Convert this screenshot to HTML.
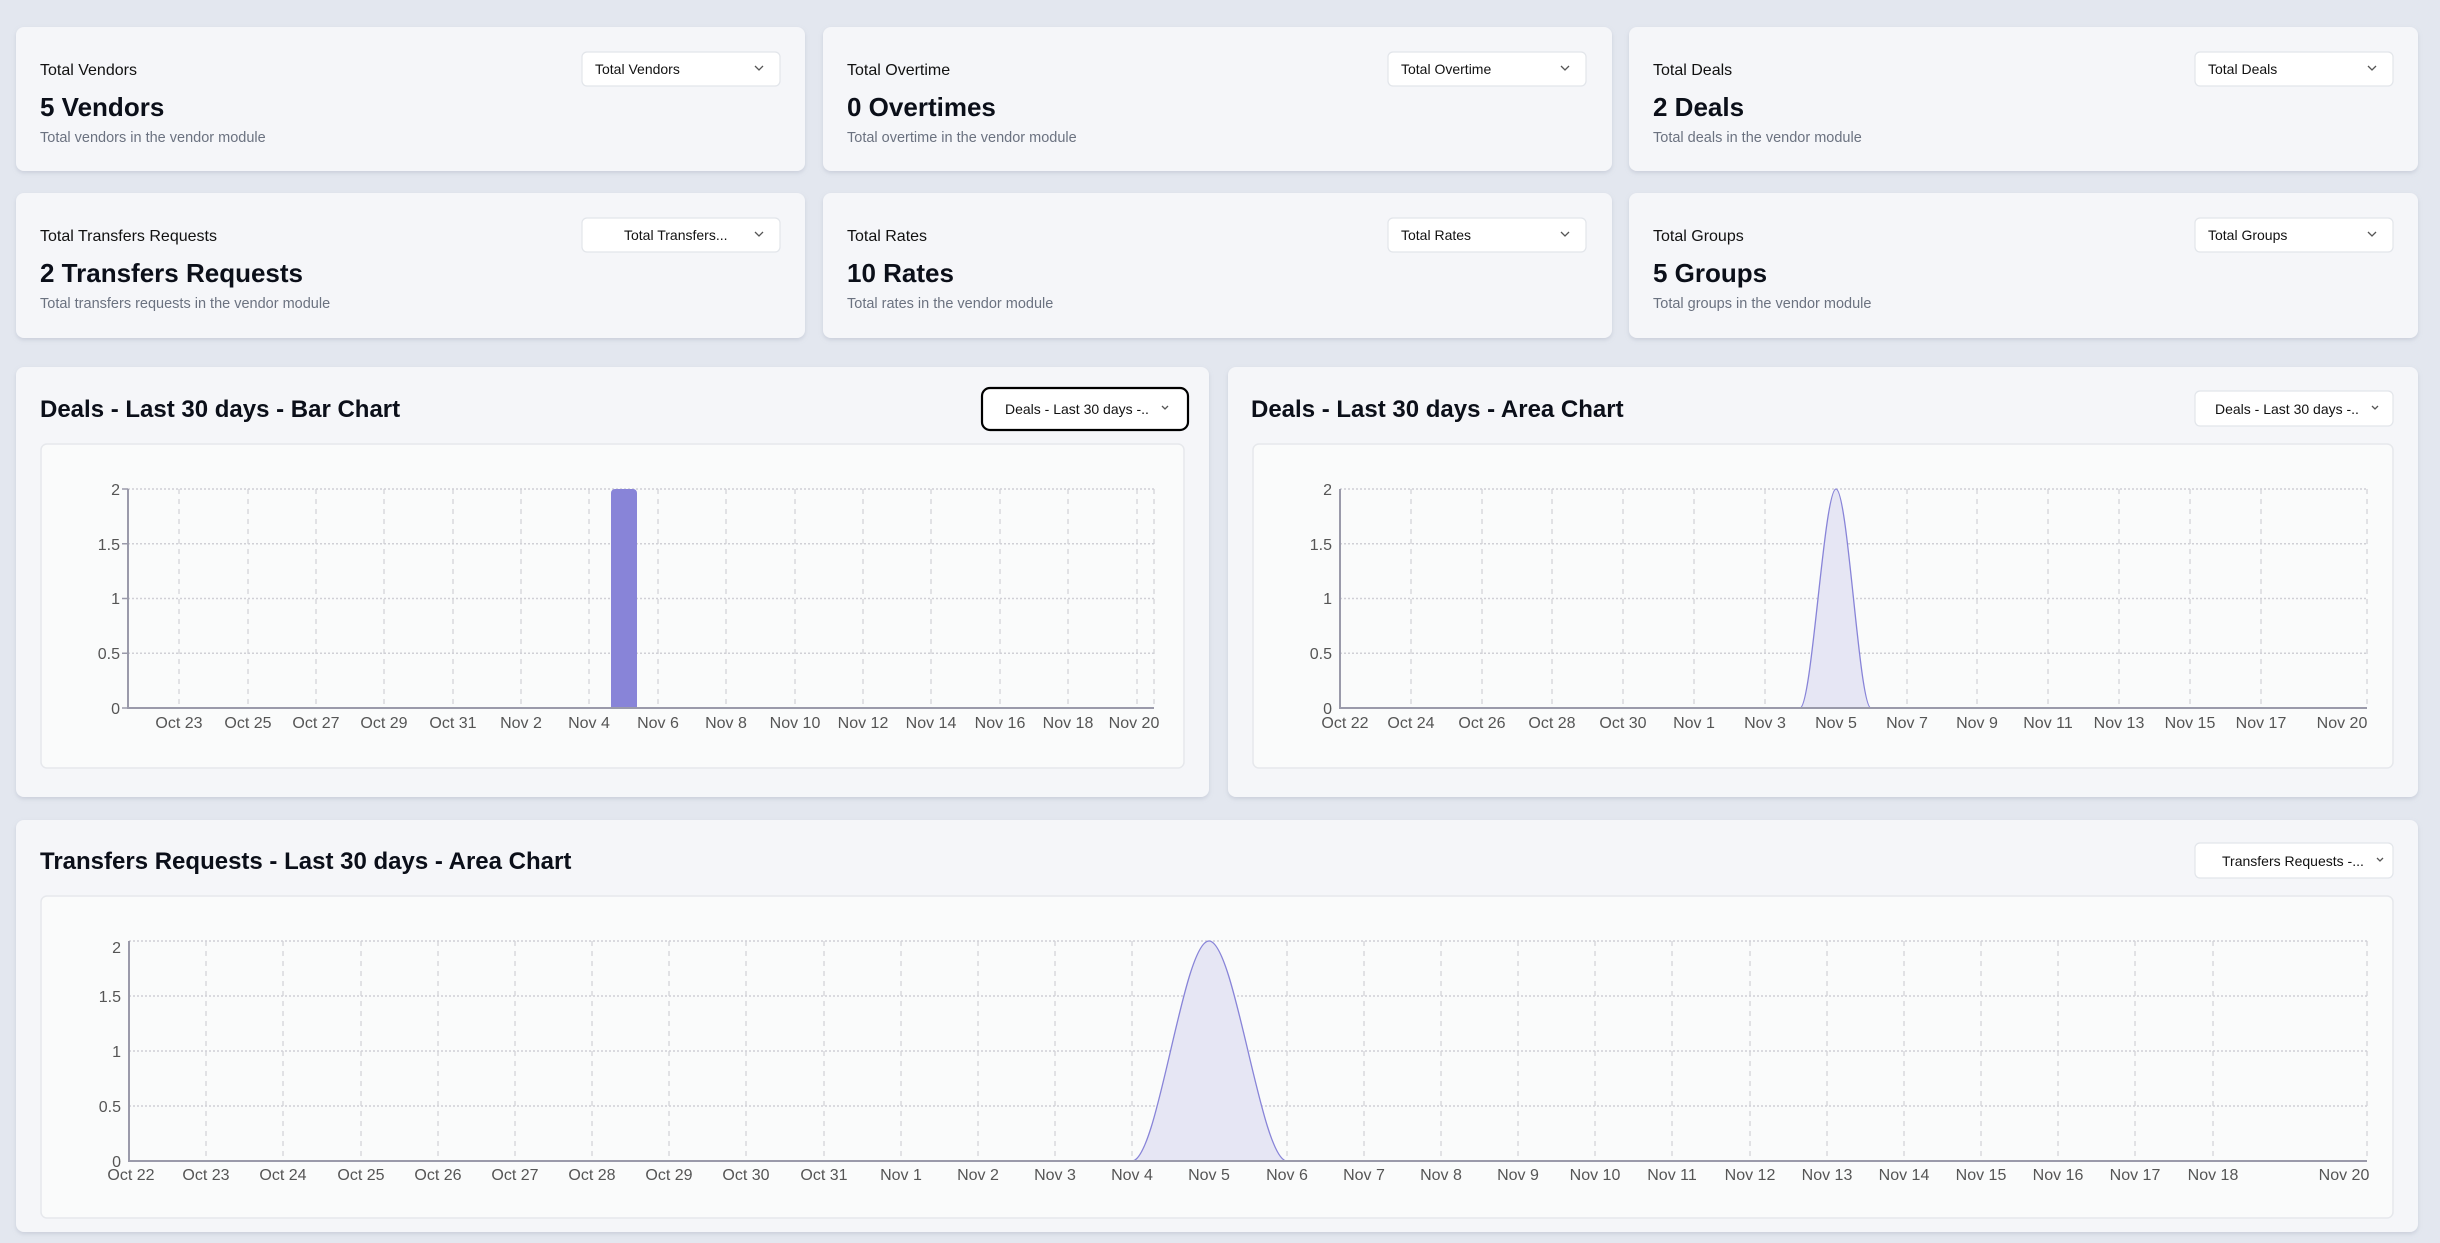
<!DOCTYPE html>
<html><head><meta charset="utf-8"><style>
html,body{margin:0;padding:0;background:#e3e7ef;}
svg{display:block;font-family:"Liberation Sans",sans-serif;}
.lb{font-size:16px;fill:#111;}
.val{font-size:26px;font-weight:bold;fill:#0b0f19;}
.sub{font-size:14.5px;fill:#6b7280;}
.dd{font-size:14px;fill:#111;}
.tt{font-size:24px;font-weight:bold;fill:#0b0f19;}
.ax{font-size:16px;fill:#555;}
.card{fill:#f5f6f9;filter:url(#sh);}
.pan{fill:#fafbfb;stroke:#e6e8ec;stroke-width:1.5;}
.ddb{fill:#fff;stroke:#e2e5ea;stroke-width:1.2;}
.hg{stroke:#d0d0d6;stroke-width:1.5;stroke-dasharray:2 2;}
.vg{stroke:#d0d0d6;stroke-width:1.2;stroke-dasharray:5 5;}
.axl{stroke:#9a9aaa;stroke-width:2;fill:none;}
.chev{fill:none;stroke:#555;stroke-width:1.3;}
</style></head><body>
<svg width="2440" height="1243" viewBox="0 0 2440 1243">
<defs><filter id="sh" x="-5%" y="-5%" width="110%" height="115%"><feDropShadow dx="0" dy="2" stdDeviation="2" flood-color="#9aa3b5" flood-opacity="0.35"/></filter></defs>
<rect width="2440" height="1243" fill="#e3e7ef"/>

<!-- stat cards -->
<g>
<rect class="card" x="16" y="27" width="789" height="144" rx="8"/>
<rect class="card" x="823" y="27" width="789" height="144" rx="8"/>
<rect class="card" x="1629" y="27" width="789" height="144" rx="8"/>
<rect class="card" x="16" y="193" width="789" height="145" rx="8"/>
<rect class="card" x="823" y="193" width="789" height="145" rx="8"/>
<rect class="card" x="1629" y="193" width="789" height="145" rx="8"/>

<text class="lb" x="40" y="75">Total Vendors</text><text class="val" x="40" y="116">5 Vendors</text><text class="sub" x="40" y="142">Total vendors in the vendor module</text>
<text class="lb" x="847" y="75">Total Overtime</text><text class="val" x="847" y="116">0 Overtimes</text><text class="sub" x="847" y="142">Total overtime in the vendor module</text>
<text class="lb" x="1653" y="75">Total Deals</text><text class="val" x="1653" y="116">2 Deals</text><text class="sub" x="1653" y="142">Total deals in the vendor module</text>
<text class="lb" x="40" y="241">Total Transfers Requests</text><text class="val" x="40" y="282">2 Transfers Requests</text><text class="sub" x="40" y="308">Total transfers requests in the vendor module</text>
<text class="lb" x="847" y="241">Total Rates</text><text class="val" x="847" y="282">10 Rates</text><text class="sub" x="847" y="308">Total rates in the vendor module</text>
<text class="lb" x="1653" y="241">Total Groups</text><text class="val" x="1653" y="282">5 Groups</text><text class="sub" x="1653" y="308">Total groups in the vendor module</text>

<rect class="ddb" x="582" y="52" width="198" height="34" rx="5"/><text class="dd" x="595" y="74">Total Vendors</text><path class="chev" d="M755 66l4 4 4-4"/>
<rect class="ddb" x="1388" y="52" width="198" height="34" rx="5"/><text class="dd" x="1401" y="74">Total Overtime</text><path class="chev" d="M1561 66l4 4 4-4"/>
<rect class="ddb" x="2195" y="52" width="198" height="34" rx="5"/><text class="dd" x="2208" y="74">Total Deals</text><path class="chev" d="M2368 66l4 4 4-4"/>
<rect class="ddb" x="582" y="218" width="198" height="34" rx="5"/><text class="dd" x="624" y="240">Total Transfers...</text><path class="chev" d="M755 232l4 4 4-4"/>
<rect class="ddb" x="1388" y="218" width="198" height="34" rx="5"/><text class="dd" x="1401" y="240">Total Rates</text><path class="chev" d="M1561 232l4 4 4-4"/>
<rect class="ddb" x="2195" y="218" width="198" height="34" rx="5"/><text class="dd" x="2208" y="240">Total Groups</text><path class="chev" d="M2368 232l4 4 4-4"/>
</g>

<!-- chart cards -->
<rect class="card" x="16" y="367" width="1193" height="430" rx="8"/>
<rect class="card" x="1228" y="367" width="1190" height="430" rx="8"/>
<rect class="card" x="16" y="820" width="2402" height="412" rx="8"/>

<text class="tt" x="40" y="417">Deals - Last 30 days - Bar Chart</text>
<rect x="982" y="388" width="206" height="42" rx="8" fill="#fff" stroke="#000" stroke-width="2.2"/>
<text class="dd" x="1005" y="414">Deals - Last 30 days -..</text><path class="chev" d="M1162 406l3 3 3-3"/>

<text class="tt" x="1251" y="417">Deals - Last 30 days - Area Chart</text>
<rect class="ddb" x="2195" y="391" width="198" height="35" rx="5"/>
<text class="dd" x="2215" y="414">Deals - Last 30 days -..</text><path class="chev" d="M2372 406l3 3 3-3"/>

<text class="tt" x="40" y="869">Transfers Requests - Last 30 days - Area Chart</text>
<rect class="ddb" x="2195" y="843" width="198" height="35" rx="5"/>
<text class="dd" x="2222" y="866">Transfers Requests -...</text><path class="chev" d="M2377 858l3 3 3-3"/>

<!-- panels -->
<rect class="pan" x="41" y="444" width="1143" height="324" rx="6"/>
<rect class="pan" x="1253" y="444" width="1140" height="324" rx="6"/>
<rect class="pan" x="41" y="896" width="2352" height="322" rx="6"/>

<!-- Bar chart -->
<g>
<g class="hg"><line x1="128" x2="1154" y1="489" y2="489"/><line x1="128" x2="1154" y1="543.75" y2="543.75"/><line x1="128" x2="1154" y1="598.5" y2="598.5"/><line x1="128" x2="1154" y1="653.25" y2="653.25"/></g>
<g class="vg">
<line x1="179" x2="179" y1="489" y2="708"/><line x1="248" x2="248" y1="489" y2="708"/><line x1="316" x2="316" y1="489" y2="708"/><line x1="384" x2="384" y1="489" y2="708"/><line x1="453" x2="453" y1="489" y2="708"/><line x1="521" x2="521" y1="489" y2="708"/><line x1="589" x2="589" y1="489" y2="708"/><line x1="658" x2="658" y1="489" y2="708"/><line x1="726" x2="726" y1="489" y2="708"/><line x1="795" x2="795" y1="489" y2="708"/><line x1="863" x2="863" y1="489" y2="708"/><line x1="931" x2="931" y1="489" y2="708"/><line x1="1000" x2="1000" y1="489" y2="708"/><line x1="1068" x2="1068" y1="489" y2="708"/><line x1="1137" x2="1137" y1="489" y2="708"/><line x1="1154" x2="1154" y1="489" y2="708"/>
</g>
<path d="M611 708V493a4 4 0 0 1 4-4h18a4 4 0 0 1 4 4V708z" fill="#8884d8"/>
<path class="axl" d="M128 489V708H1154"/>
<g stroke="#9a9aaa" stroke-width="1.5"><line x1="122" x2="128" y1="489" y2="489"/><line x1="122" x2="128" y1="543.75" y2="543.75"/><line x1="122" x2="128" y1="598.5" y2="598.5"/><line x1="122" x2="128" y1="653.25" y2="653.25"/><line x1="122" x2="128" y1="708" y2="708"/></g>
<g class="ax" text-anchor="end"><text x="120" y="495">2</text><text x="120" y="550">1.5</text><text x="120" y="604">1</text><text x="120" y="659">0.5</text><text x="120" y="714">0</text></g>
<g class="ax" text-anchor="middle">
<text x="179" y="728">Oct 23</text><text x="248" y="728">Oct 25</text><text x="316" y="728">Oct 27</text><text x="384" y="728">Oct 29</text><text x="453" y="728">Oct 31</text><text x="521" y="728">Nov 2</text><text x="589" y="728">Nov 4</text><text x="658" y="728">Nov 6</text><text x="726" y="728">Nov 8</text><text x="795" y="728">Nov 10</text><text x="863" y="728">Nov 12</text><text x="931" y="728">Nov 14</text><text x="1000" y="728">Nov 16</text><text x="1068" y="728">Nov 18</text><text x="1134" y="728">Nov 20</text>
</g>
</g>

<!-- Area chart right -->
<g>
<g class="hg"><line x1="1340" x2="2367" y1="489" y2="489"/><line x1="1340" x2="2367" y1="543.75" y2="543.75"/><line x1="1340" x2="2367" y1="598.5" y2="598.5"/><line x1="1340" x2="2367" y1="653.25" y2="653.25"/></g>
<g class="vg">
<line x1="1411" x2="1411" y1="489" y2="708"/><line x1="1482" x2="1482" y1="489" y2="708"/><line x1="1552" x2="1552" y1="489" y2="708"/><line x1="1623" x2="1623" y1="489" y2="708"/><line x1="1694" x2="1694" y1="489" y2="708"/><line x1="1765" x2="1765" y1="489" y2="708"/><line x1="1836" x2="1836" y1="489" y2="708"/><line x1="1907" x2="1907" y1="489" y2="708"/><line x1="1977" x2="1977" y1="489" y2="708"/><line x1="2048" x2="2048" y1="489" y2="708"/><line x1="2119" x2="2119" y1="489" y2="708"/><line x1="2190" x2="2190" y1="489" y2="708"/><line x1="2261" x2="2261" y1="489" y2="708"/><line x1="2367" x2="2367" y1="489" y2="708"/>
</g>
<path d="M1800 708C1812 708 1824 489 1836 489C1848 489 1859 708 1871 708Z" fill="#e6e6f4" stroke="#8884d8" stroke-width="1.3"/>
<path class="axl" d="M1340 489V708H2367"/>
<g class="ax" text-anchor="end"><text x="1332" y="495">2</text><text x="1332" y="550">1.5</text><text x="1332" y="604">1</text><text x="1332" y="659">0.5</text><text x="1332" y="714">0</text></g>
<g class="ax" text-anchor="middle">
<text x="1345" y="728">Oct 22</text><text x="1411" y="728">Oct 24</text><text x="1482" y="728">Oct 26</text><text x="1552" y="728">Oct 28</text><text x="1623" y="728">Oct 30</text><text x="1694" y="728">Nov 1</text><text x="1765" y="728">Nov 3</text><text x="1836" y="728">Nov 5</text><text x="1907" y="728">Nov 7</text><text x="1977" y="728">Nov 9</text><text x="2048" y="728">Nov 11</text><text x="2119" y="728">Nov 13</text><text x="2190" y="728">Nov 15</text><text x="2261" y="728">Nov 17</text><text x="2342" y="728">Nov 20</text>
</g>
</g>

<!-- Bottom area chart -->
<g>
<g class="hg"><line x1="129" x2="2367" y1="941" y2="941"/><line x1="129" x2="2367" y1="996" y2="996"/><line x1="129" x2="2367" y1="1051" y2="1051"/><line x1="129" x2="2367" y1="1106" y2="1106"/></g>
<g class="vg">
<line x1="206" x2="206" y1="941" y2="1161"/><line x1="283" x2="283" y1="941" y2="1161"/><line x1="361" x2="361" y1="941" y2="1161"/><line x1="438" x2="438" y1="941" y2="1161"/><line x1="515" x2="515" y1="941" y2="1161"/><line x1="592" x2="592" y1="941" y2="1161"/><line x1="669" x2="669" y1="941" y2="1161"/><line x1="746" x2="746" y1="941" y2="1161"/><line x1="824" x2="824" y1="941" y2="1161"/><line x1="901" x2="901" y1="941" y2="1161"/><line x1="978" x2="978" y1="941" y2="1161"/><line x1="1055" x2="1055" y1="941" y2="1161"/><line x1="1132" x2="1132" y1="941" y2="1161"/><line x1="1209" x2="1209" y1="941" y2="1161"/><line x1="1287" x2="1287" y1="941" y2="1161"/><line x1="1364" x2="1364" y1="941" y2="1161"/><line x1="1441" x2="1441" y1="941" y2="1161"/><line x1="1518" x2="1518" y1="941" y2="1161"/><line x1="1595" x2="1595" y1="941" y2="1161"/><line x1="1672" x2="1672" y1="941" y2="1161"/><line x1="1750" x2="1750" y1="941" y2="1161"/><line x1="1827" x2="1827" y1="941" y2="1161"/><line x1="1904" x2="1904" y1="941" y2="1161"/><line x1="1981" x2="1981" y1="941" y2="1161"/><line x1="2058" x2="2058" y1="941" y2="1161"/><line x1="2135" x2="2135" y1="941" y2="1161"/><line x1="2213" x2="2213" y1="941" y2="1161"/><line x1="2367" x2="2367" y1="941" y2="1161"/>
</g>
<path d="M1132 1161C1158 1161 1183 941 1209 941C1235 941 1261 1161 1287 1161Z" fill="#e6e6f4" stroke="#8884d8" stroke-width="1.3"/>
<path class="axl" d="M129 941V1161H2367"/>
<g class="ax" text-anchor="end"><text x="121" y="953">2</text><text x="121" y="1002">1.5</text><text x="121" y="1057">1</text><text x="121" y="1112">0.5</text><text x="121" y="1167">0</text></g>
<g class="ax" text-anchor="middle">
<text x="131" y="1180">Oct 22</text><text x="206" y="1180">Oct 23</text><text x="283" y="1180">Oct 24</text><text x="361" y="1180">Oct 25</text><text x="438" y="1180">Oct 26</text><text x="515" y="1180">Oct 27</text><text x="592" y="1180">Oct 28</text><text x="669" y="1180">Oct 29</text><text x="746" y="1180">Oct 30</text><text x="824" y="1180">Oct 31</text><text x="901" y="1180">Nov 1</text><text x="978" y="1180">Nov 2</text><text x="1055" y="1180">Nov 3</text><text x="1132" y="1180">Nov 4</text><text x="1209" y="1180">Nov 5</text><text x="1287" y="1180">Nov 6</text><text x="1364" y="1180">Nov 7</text><text x="1441" y="1180">Nov 8</text><text x="1518" y="1180">Nov 9</text><text x="1595" y="1180">Nov 10</text><text x="1672" y="1180">Nov 11</text><text x="1750" y="1180">Nov 12</text><text x="1827" y="1180">Nov 13</text><text x="1904" y="1180">Nov 14</text><text x="1981" y="1180">Nov 15</text><text x="2058" y="1180">Nov 16</text><text x="2135" y="1180">Nov 17</text><text x="2213" y="1180">Nov 18</text><text x="2344" y="1180">Nov 20</text>
</g>
</g>
</svg>
</body></html>
